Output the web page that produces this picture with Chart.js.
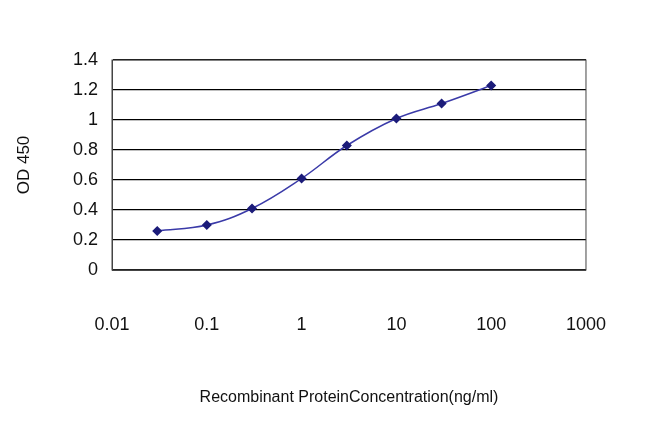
<!DOCTYPE html>
<html>
<head>
<meta charset="utf-8">
<script src="https://cdn.jsdelivr.net/npm/chart.js@4/dist/chart.umd.min.js"></script>
<style>
  body { margin: 0; background: #fff; }
  #wrap { width: 650px; height: 433px; }
</style>
</head>
<body>
<div id="wrap"><canvas id="odChart"></canvas></div>
<script>
// concentracion (ng/ml) y lectura OD 450
const conc = [0.03, 0.1, 0.3, 1, 3, 10, 30, 100];
const od = [0.26, 0.30, 0.41, 0.61, 0.83, 1.01, 1.11, 1.23];
const xTicks = [0.01, 0.1, 1, 10, 100, 1000];
const yTicks = [0, 0.2, 0.4, 0.6, 0.8, 1, 1.2, 1.4];

const ctx = document.getElementById('odChart').getContext('2d');
new Chart(ctx, {
  type: 'line',
  data: {
    datasets: [{
      data: conc.map((c, i) => ({ x: c, y: od[i] })),
      borderColor: '#3a3aa8',
      borderWidth: 1.5,
      pointStyle: 'rectRot',
      pointRadius: 4,
      pointBackgroundColor: '#1c1c7a',
      pointBorderColor: '#1c1c7a',
      tension: 0.4,
      fill: false
    }]
  },
  options: {
    responsive: true,
    maintainAspectRatio: false,
    animation: false,
    layout: { padding: { left: 10, right: 60, top: 60, bottom: 22 } },
    plugins: { legend: { display: false }, tooltip: { enabled: false } },
    scales: {
      x: {
        type: 'logarithmic',
        min: 0.01,
        max: 1000,
        afterBuildTicks: (axis) => { axis.ticks = xTicks.map(v => ({ value: v })); },
        afterFit: (axis) => { axis.height = 141; },
        grid: { display: false, drawTicks: false },
        border: { color: '#444' },
        ticks: {
          padding: 44,
          color: '#111',
          font: { family: 'Liberation Sans', size: 18 },
          maxRotation: 0,
          callback: (v) => String(v)
        },
        title: {
          display: true,
          text: 'Recombinant ProteinConcentration(ng/ml)',
          color: '#111',
          font: { family: 'Liberation Sans', size: 16 },
          padding: { top: 34 }
        }
      },
      y: {
        min: 0,
        max: 1.4,
        afterBuildTicks: (axis) => { axis.ticks = yTicks.map(v => ({ value: v })); },
        afterFit: (axis) => { axis.width = 102; },
        grid: { color: '#000', lineWidth: 1.2, drawTicks: false },
        border: { color: '#444' },
        ticks: {
          padding: 14,
          color: '#111',
          font: { family: 'Liberation Sans', size: 18 },
          callback: (v) => String(Math.round(v * 10) / 10)
        },
        title: {
          display: true,
          text: 'OD 450',
          color: '#111',
          font: { family: 'Liberation Sans', size: 17 },
          padding: { bottom: 10 }
        }
      }
    }
  },
  plugins: [{
    id: 'marco',
    afterDraw(chart) {
      const a = chart.chartArea, c = chart.ctx;
      c.save();
      c.strokeStyle = '#444';
      c.lineWidth = 1;
      c.strokeRect(a.left, a.top, a.right - a.left, a.bottom - a.top);
      c.restore();
    }
  }]
});
</script>
</body>
</html>
